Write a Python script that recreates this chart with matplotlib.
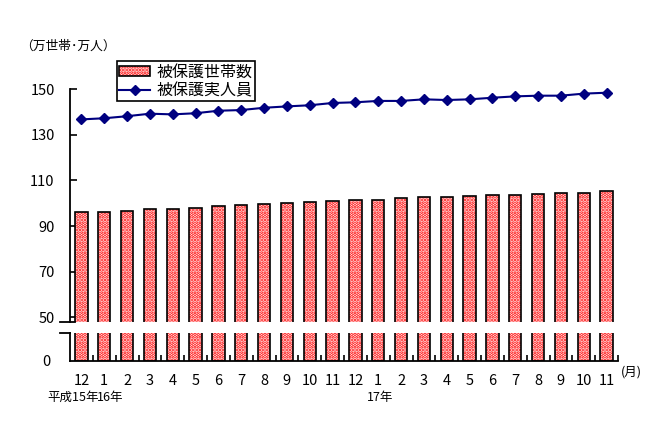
import matplotlib
matplotlib.use("Agg")
import matplotlib.pyplot as plt
from matplotlib.patches import Patch
from matplotlib.lines import Line2D
from matplotlib.legend_handler import HandlerTuple
import matplotlib.transforms as mtransforms
import numpy as np

plt.rcParams['font.family'] = ['Noto Sans CJK JP', 'DejaVu Sans']
plt.rcParams['hatch.linewidth'] = 1.8

months = ['12', '1', '2', '3', '4', '5', '6', '7', '8', '9', '10', '11',
          '12', '1', '2', '3', '4', '5', '6', '7', '8', '9', '10', '11']
households = [96.1, 96.1, 96.5, 97.4, 97.4, 97.8, 98.7, 99.1, 99.6, 100.0, 100.4, 100.9,
              101.3, 101.3, 102.2, 102.6, 102.6, 103.1, 103.5, 103.5, 103.9, 104.4, 104.4, 105.3]
persons = [136.8, 137.3, 138.2, 139.3, 139.0, 139.5, 140.6, 140.9, 141.9, 142.5, 143.0, 144.0,
           144.3, 144.9, 144.9, 145.6, 145.3, 145.6, 146.3, 146.9, 147.2, 147.2, 148.1, 148.5]
yticks_upper = [50, 70, 90, 110, 130, 150]
year_labels = [(-0.37, '平成15年'), (1.25, '16年'), (13.1, '17年')]
series_names = ['被保護世帯数', '被保護実人員']

W, H = 658, 429
fig = plt.figure(figsize=(W / 100, H / 100), dpi=100)

def fx(px):
    return px / W

def fy(py):
    return 1 - py / H

px_per_unit = 2.28
ax_left, ax_right = 70, 618
up_top, up_bot = 89.3, 322.0
lo_top, lo_bot = 332.7, 360.5

ax_up = fig.add_axes([fx(ax_left), fy(up_bot), fx(ax_right) - fx(ax_left), fy(up_top) - fy(up_bot)])
ax_lo = fig.add_axes([fx(ax_left), fy(lo_bot), fx(ax_right) - fx(ax_left), fy(lo_top) - fy(lo_bot)])

x = np.arange(len(months))
bw = 0.54
red = '#ff0000'
navy = '#000080'
lw_edge = 1.2

for ax in (ax_up, ax_lo):
    ax.bar(x, households, width=bw, color='white', edgecolor=red, linewidth=0, hatch='.....', zorder=2)
    ax.bar(x, households, width=bw, fill=False, edgecolor='black', linewidth=lw_edge, zorder=3)
    ax.set_xlim(-0.5, len(months) - 0.5)
    for s in ('top', 'right', 'bottom'):
        ax.spines[s].set_visible(False)
    ax.spines['left'].set_linewidth(1.3)

ax_up.plot(x, persons, color=navy, linewidth=1.5, marker='D', markersize=5.2,
           markerfacecolor=navy, markeredgecolor=navy, zorder=4, clip_on=False)

ax_up.set_ylim(150 - (up_bot - up_top) / px_per_unit, 150)
ax_up.set_yticks(yticks_upper)
ax_up.set_yticklabels([str(v) for v in yticks_upper], fontsize=10.5)
ax_up.tick_params(axis='y', direction='in', length=5, width=1.2, pad=11)
ax_up.set_xticks([])

ax_lo.set_ylim(0, (lo_bot - lo_top) / px_per_unit)
ax_lo.spines['bottom'].set_visible(True)
ax_lo.spines['bottom'].set_linewidth(1.3)
ax_lo.set_yticks([0])
ax_lo.set_yticklabels(['0'], fontsize=10.5)
ax_lo.tick_params(axis='y', length=0, pad=14)
ax_lo.set_xticks(x)
ax_lo.set_xticklabels(months, fontsize=10.5)
ax_lo.set_xticks(np.arange(0.5, len(months), 1.0), minor=True)
ax_lo.tick_params(axis='x', which='major', length=0, pad=10)
ax_lo.tick_params(axis='x', which='minor', direction='in', length=4, width=1.2)

# axis break marks
ax_up.plot([(60 - ax_left) / (ax_right - ax_left), (75 - ax_left) / (ax_right - ax_left)], [0, 0],
           transform=ax_up.transAxes, color='black', linewidth=1.3, clip_on=False)
ax_lo.plot([(60 - ax_left) / (ax_right - ax_left), 0], [1, 1],
           transform=ax_lo.transAxes, color='black', linewidth=1.3, clip_on=False)

# year labels
trans = mtransforms.blended_transform_factory(ax_lo.transData, fig.transFigure)
for xv, lab in year_labels:
    ax_lo.text(xv, fy(397), lab, transform=trans, ha='center', va='center', fontsize=9)

fig.text(fx(631), fy(372), '(月)', ha='center', va='center', fontsize=9)
fig.text(fx(20), fy(46.7), '（万世帯･万人）', ha='left', va='center', fontsize=9.2)

# legend
h_bar = (Patch(facecolor='white', edgecolor=red, linewidth=0, hatch='.....'),
         Patch(fill=False, edgecolor='black', linewidth=lw_edge))
h_line = Line2D([], [], color=navy, linewidth=1.5, marker='D', markersize=5.2,
                markerfacecolor=navy, markeredgecolor=navy)
leg = fig.legend([h_bar, h_line], series_names,
                 handler_map={tuple: HandlerTuple(ndivide=1)},
                 loc='upper left', bbox_to_anchor=(fx(117), fy(61)),
                 fontsize=11.5, frameon=True, fancybox=False, shadow=False,
                 borderpad=0.15, labelspacing=0.1, handlelength=1.9, handleheight=0.6,
                 handletextpad=0.4, borderaxespad=0)
leg.get_frame().set_edgecolor('black')
leg.get_frame().set_linewidth(1.2)
leg.get_frame().set_alpha(1)

fig.savefig('out.png', dpi=100)
